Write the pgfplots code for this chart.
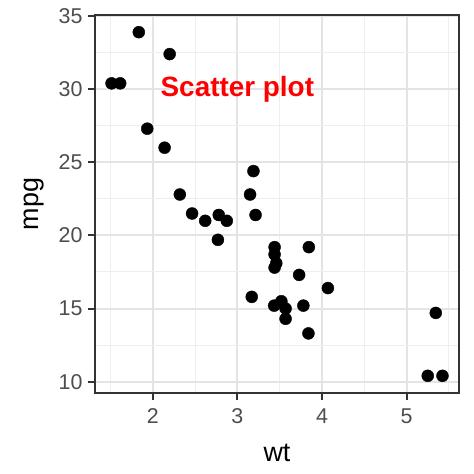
\documentclass[border=0pt]{standalone}
\usepackage{fontspec}
\setmainfont{Liberation Sans}
\usepackage{pgfplots}
\pgfplotsset{compat=1.18}
\definecolor{gridmaj}{HTML}{E4E4E4}
\definecolor{gridmin}{HTML}{EEEEEE}
\definecolor{frame}{HTML}{333333}
\definecolor{ticktxt}{HTML}{4D4D4D}
\definecolor{annot}{HTML}{FF0000}

\pgfplotstableread{
wt mpg
2.620 21.0
2.875 21.0
2.320 22.8
3.215 21.4
3.440 18.7
3.460 18.1
3.570 14.3
3.190 24.4
3.150 22.8
3.440 19.2
3.440 17.8
4.070 16.4
3.730 17.3
3.780 15.2
5.250 10.4
5.424 10.4
5.345 14.7
2.200 32.4
1.615 30.4
1.835 33.9
2.465 21.5
3.520 15.5
3.435 15.2
3.840 13.3
3.845 19.2
1.935 27.3
2.140 26.0
1.513 30.4
3.170 15.8
2.770 19.7
3.570 15.0
2.780 21.4
}\mtcars

\begin{document}
\begin{tikzpicture}
\begin{axis}[
  name=main,
  scale only axis,
  width=364bp, height=378bp,
  xmin=1.31745, xmax=5.61955,
  ymin=9.225, ymax=35.075,
  xtick={2,3,4,5},
  ytick={10,15,20,25,30,35},
  minor xtick={1.5,2.5,3.5,4.5,5.5},
  minor ytick={12.5,17.5,22.5,27.5,32.5},
  grid=both,
  major grid style={gridmaj, line width=2bp},
  minor grid style={gridmin, line width=1bp},
  axis line style={frame, line width=1.4bp},
  tick style={frame, line width=2bp},
  major tick length=7bp,
  minor tick length=0pt,
  tick align=outside,
  xtick pos=bottom, ytick pos=left,
  tick label style={ticktxt, font=\fontsize{21.5}{24}\selectfont},
  /pgf/number format/assume math mode=true,
  xticklabel style={yshift=-5bp},
  yticklabel style={xshift=-2bp},
  xlabel={wt}, ylabel={mpg},
  label style={black, font=\fontsize{27}{30}\selectfont},
  xlabel style={yshift=-14bp},
  ylabel style={yshift=8bp},
]
\addplot[only marks, mark=*, mark size=6bp, mark options={fill=black, draw=black}]
  table[x=wt, y=mpg] {\mtcars};
\node[annot, font=\fontsize{28}{32}\selectfont\bfseries] at (axis cs:3,30) {Scatter plot};
\end{axis}
\pgfresetboundingbox
\path (main.south west) ++(-95bp,-81bp) coordinate (bl);
\path (main.north east) ++(15bp,15bp) coordinate (tr);
\useasboundingbox (bl) rectangle (tr);
\end{tikzpicture}
\end{document}
